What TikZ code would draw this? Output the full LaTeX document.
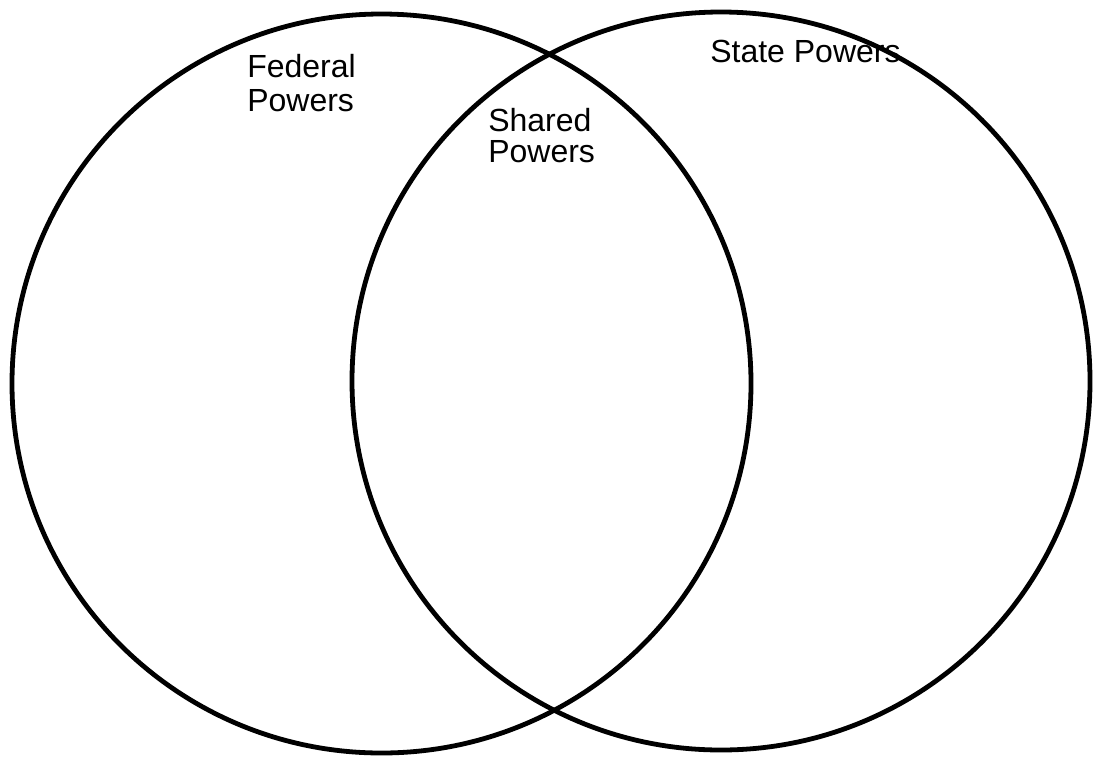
\documentclass[tikz,border=0pt]{standalone}
\usepackage{fontspec}
\setmainfont{Liberation Sans}
\usetikzlibrary{positioning}

\tikzset{
    ring/.style={line width=3.6pt, draw=black},
    label/.style={font=\fontsize{24}{25}\selectfont, align=left, inner sep=0pt}
}

\begin{document}
\begin{tikzpicture}[x=0.75pt, y=-0.75pt]
    % Page frame (1094 x 757 px)
    \useasboundingbox (0,0) rectangle (1094,757);

    % The two sets
    \coordinate (Cfed) at (381.5,383.5);
    \coordinate (Cstate) at (721,381);
    \draw[ring] (Cfed) circle (369.5);
    \draw[ring] (Cstate) circle (369);

    % Labels of the regions (base = last line)
    \node[label, anchor=base west] (fed) at (247,111) {Federal\\Powers};
    \node[label, anchor=base west] (state) at (710,62) {State Powers};
    \node[label, anchor=base west, font=\fontsize{24}{23}\selectfont] (shared) at (488,162) {Shared\\Powers};

\end{tikzpicture}
\end{document}
